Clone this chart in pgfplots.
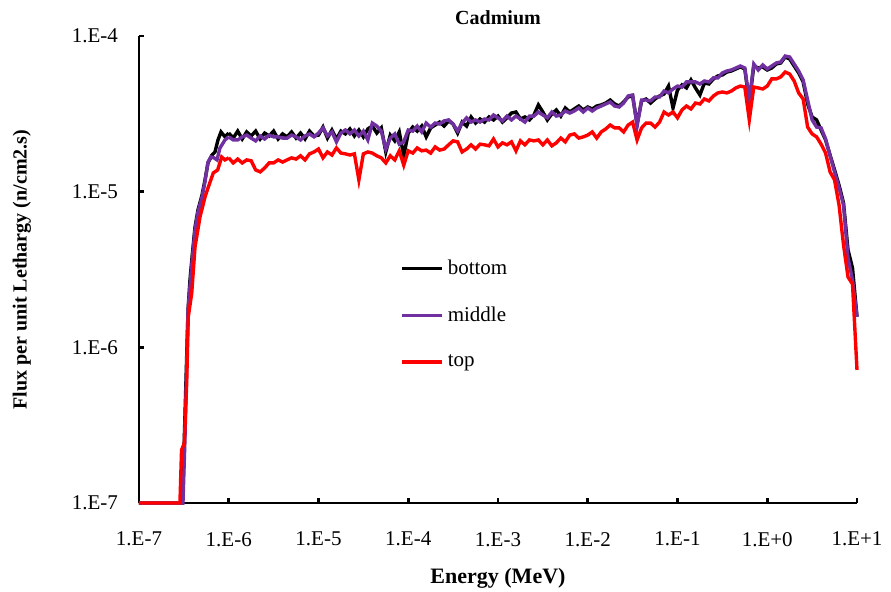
\documentclass[border=0pt]{standalone}
\usepackage{fontspec}
\setmainfont{Liberation Serif}
\usepackage{pgfplots}
\usepackage{pgfplotstable}
\pgfplotsset{compat=1.18}
\definecolor{cpurple}{HTML}{7030A0}
\definecolor{cred}{HTML}{FF0000}
\pgfplotsset{legend image code/.code={\draw[#1] (0pt,0pt) -- (20pt,0pt);}}

% rising edge, one table per series
\pgfplotstableread{
E F
1e-7 1e-7
3.05e-7 1e-7
3.17e-7 2.19e-7
3.34e-7 6.17e-7
3.52e-7 1.74e-6
3.70e-7 2.71e-6
3.90e-7 3.80e-6
4.21e-7 5.93e-6
4.54e-7 7.62e-6
5.04e-7 9.52e-6
5.44e-7 1.19e-5
5.87e-7 1.53e-5
6.51e-7 1.72e-5
7.03e-7 1.80e-5
7.59e-7 2.15e-5
8.20e-7 2.42e-5
9.08e-7 2.25e-5
1e-6 2.38e-5
}\riseB
\pgfplotstableread{
E F
1e-7 1e-7
3.09e-7 1e-7
3.25e-7 2.54e-7
3.52e-7 1.74e-6
3.90e-7 3.53e-6
4.21e-7 5.67e-6
4.54e-7 7.40e-6
5.04e-7 9.24e-6
5.44e-7 1.16e-5
5.87e-7 1.55e-5
6.34e-7 1.67e-5
6.85e-7 1.65e-5
7.40e-7 1.60e-5
7.99e-7 1.91e-5
9.08e-7 2.15e-5
1e-6 2.25e-5
}\riseM
\pgfplotstableread{
E F
1e-7 1e-7
2.86e-7 1e-7
2.98e-7 2.19e-7
3.20e-7 2.43e-7
3.40e-7 5.90e-7
3.54e-7 1.57e-6
3.87e-7 2.23e-6
4.21e-7 4.41e-6
4.78e-7 6.87e-6
5.44e-7 9.24e-6
5.92e-7 1.07e-5
6.73e-7 1.32e-5
7.53e-7 1.38e-5
8.34e-7 1.67e-5
9.08e-7 1.60e-5
1e-6 1.65e-5
}\riseT

% plateau and fast range: energy, bottom, middle, top
\pgfplotstableread{
E B M T
1e-6 2.38e-5 2.25e-5 1.65e-5
1.122e-6 2.21e-5 2.15e-5 1.53e-5
1.259e-6 2.45e-5 2.15e-5 1.62e-5
1.413e-6 2.18e-5 2.25e-5 1.53e-5
1.585e-6 2.42e-5 2.31e-5 1.60e-5
1.778e-6 2.28e-5 2.21e-5 1.58e-5
1.995e-6 2.45e-5 2.12e-5 1.38e-5
2.239e-6 2.18e-5 2.28e-5 1.34e-5
2.512e-6 2.38e-5 2.18e-5 1.42e-5
2.818e-6 2.28e-5 2.31e-5 1.53e-5
3.162e-6 2.45e-5 2.25e-5 1.53e-5
3.548e-6 2.18e-5 2.25e-5 1.60e-5
3.981e-6 2.35e-5 2.21e-5 1.55e-5
4.467e-6 2.25e-5 2.21e-5 1.60e-5
5.012e-6 2.42e-5 2.31e-5 1.65e-5
5.623e-6 2.21e-5 2.25e-5 1.62e-5
6.310e-6 2.38e-5 2.15e-5 1.70e-5
7.079e-6 2.18e-5 2.28e-5 1.60e-5
7.943e-6 2.45e-5 2.35e-5 1.75e-5
8.913e-6 2.28e-5 2.25e-5 1.80e-5
1e-5 2.31e-5 2.38e-5 1.88e-5
1.122e-5 2.60e-5 2.57e-5 1.65e-5
1.259e-5 2.21e-5 2.28e-5 1.80e-5
1.413e-5 2.49e-5 2.42e-5 1.72e-5
1.585e-5 2.18e-5 2.09e-5 1.91e-5
1.778e-5 2.45e-5 2.38e-5 1.77e-5
1.995e-5 2.35e-5 2.49e-5 1.75e-5
2.239e-5 2.53e-5 2.35e-5 1.72e-5
2.512e-5 2.28e-5 2.49e-5 1.75e-5
2.818e-5 2.49e-5 2.28e-5 1.19e-5
3.162e-5 2.25e-5 2.45e-5 1.75e-5
3.548e-5 2.53e-5 2.15e-5 1.80e-5
3.981e-5 2.64e-5 2.76e-5 1.77e-5
4.467e-5 2.38e-5 2.64e-5 1.70e-5
5.012e-5 2.57e-5 2.45e-5 1.65e-5
5.623e-5 1.80e-5 1.88e-5 1.53e-5
6.310e-5 2.31e-5 2.21e-5 1.70e-5
7.079e-5 2.12e-5 2.35e-5 1.60e-5
7.943e-5 2.42e-5 2.02e-5 1.83e-5
8.913e-5 1.70e-5 2.09e-5 1.48e-5
1e-4 2.38e-5 2.49e-5 1.83e-5
1.122e-4 2.60e-5 2.45e-5 1.77e-5
1.259e-4 2.45e-5 2.64e-5 1.91e-5
1.413e-4 2.64e-5 2.42e-5 1.83e-5
1.585e-4 2.25e-5 2.76e-5 1.85e-5
1.778e-4 2.57e-5 2.60e-5 1.77e-5
1.995e-4 2.68e-5 2.76e-5 1.94e-5
2.239e-4 2.80e-5 2.72e-5 1.85e-5
2.512e-4 2.64e-5 2.85e-5 1.88e-5
2.818e-4 2.85e-5 2.89e-5 2.00e-5
3.162e-4 2.72e-5 2.72e-5 2.12e-5
3.548e-4 2.38e-5 2.45e-5 2.09e-5
3.981e-4 2.80e-5 2.76e-5 1.80e-5
4.467e-4 2.64e-5 2.98e-5 1.88e-5
5.012e-4 3.02e-5 2.80e-5 2.00e-5
5.623e-4 2.76e-5 2.89e-5 1.88e-5
6.310e-4 2.93e-5 2.80e-5 2.02e-5
7.079e-4 2.80e-5 2.93e-5 2.00e-5
7.943e-4 3.02e-5 2.89e-5 1.97e-5
8.913e-4 2.89e-5 3.11e-5 2.18e-5
1e-3 3.06e-5 2.98e-5 1.94e-5
1.122e-3 2.80e-5 2.85e-5 2.06e-5
1.259e-3 2.98e-5 3.06e-5 2.00e-5
1.413e-3 3.20e-5 2.89e-5 2.09e-5
1.585e-3 3.25e-5 3.06e-5 1.83e-5
1.778e-3 2.93e-5 2.93e-5 2.12e-5
1.995e-3 3.02e-5 2.80e-5 2.00e-5
2.239e-3 2.89e-5 3.06e-5 2.15e-5
2.512e-3 3.11e-5 3.06e-5 2.12e-5
2.818e-3 3.61e-5 3.25e-5 2.15e-5
3.162e-3 3.25e-5 3.11e-5 2.00e-5
3.548e-3 2.89e-5 2.98e-5 2.15e-5
3.981e-3 3.16e-5 3.25e-5 1.97e-5
4.467e-3 3.35e-5 3.06e-5 2.06e-5
5.012e-3 3.06e-5 3.11e-5 2.21e-5
5.623e-3 3.45e-5 3.30e-5 2.09e-5
6.310e-3 3.25e-5 3.20e-5 2.31e-5
7.079e-3 3.40e-5 3.30e-5 2.35e-5
7.943e-3 3.55e-5 3.45e-5 2.21e-5
8.913e-3 3.35e-5 3.25e-5 2.25e-5
1e-2 3.50e-5 3.45e-5 2.31e-5
1.122e-2 3.40e-5 3.30e-5 2.42e-5
1.259e-2 3.55e-5 3.45e-5 2.21e-5
1.413e-2 3.61e-5 3.55e-5 2.42e-5
1.585e-2 3.71e-5 3.66e-5 2.53e-5
1.778e-2 3.88e-5 3.77e-5 2.68e-5
1.995e-2 3.66e-5 3.55e-5 2.57e-5
2.239e-2 3.55e-5 3.50e-5 2.57e-5
2.512e-2 3.77e-5 3.71e-5 2.42e-5
2.818e-2 4.06e-5 4.12e-5 2.68e-5
3.162e-2 4.12e-5 4.18e-5 2.80e-5
3.548e-2 2.72e-5 2.64e-5 2.15e-5
3.981e-2 3.83e-5 3.88e-5 2.57e-5
4.467e-2 3.94e-5 3.88e-5 2.76e-5
5.012e-2 3.71e-5 3.83e-5 2.76e-5
5.623e-2 3.94e-5 4.06e-5 2.60e-5
6.310e-2 4.12e-5 4.06e-5 2.80e-5
7.079e-2 4.24e-5 4.43e-5 3.25e-5
7.943e-2 4.77e-5 4.31e-5 3.11e-5
8.913e-2 3.45e-5 4.57e-5 3.25e-5
1e-1 4.50e-5 4.77e-5 2.98e-5
1.122e-1 4.85e-5 4.70e-5 3.35e-5
1.259e-1 4.64e-5 5.07e-5 3.55e-5
1.413e-1 5.22e-5 5.07e-5 3.40e-5
1.585e-1 4.64e-5 5.07e-5 3.71e-5
1.778e-1 4.18e-5 4.92e-5 3.66e-5
1.995e-1 4.99e-5 5.14e-5 3.94e-5
2.239e-1 4.92e-5 5.07e-5 3.83e-5
2.512e-1 5.30e-5 5.38e-5 4.12e-5
2.818e-1 5.54e-5 5.38e-5 4.31e-5
3.162e-1 5.62e-5 5.79e-5 4.37e-5
3.548e-1 5.87e-5 5.96e-5 4.31e-5
3.981e-1 5.96e-5 6.05e-5 4.43e-5
4.467e-1 6.14e-5 6.23e-5 4.64e-5
5.012e-1 6.33e-5 6.42e-5 4.77e-5
5.623e-1 6.14e-5 6.23e-5 4.70e-5
6.310e-1 3.71e-5 3.88e-5 2.89e-5
7.079e-1 6.42e-5 6.61e-5 4.70e-5
7.943e-1 6.23e-5 6.05e-5 4.64e-5
8.913e-1 6.33e-5 6.52e-5 4.57e-5
1 6.05e-5 6.14e-5 4.77e-5
1.122 6.23e-5 6.42e-5 5.30e-5
1.259 6.61e-5 6.71e-5 5.30e-5
1.413 6.71e-5 6.81e-5 5.46e-5
1.585 7.33e-5 7.44e-5 5.87e-5
1.778 7.12e-5 7.33e-5 5.70e-5
1.995 6.42e-5 6.61e-5 5.14e-5
2.239 5.79e-5 5.96e-5 4.31e-5
2.512 5.07e-5 5.22e-5 3.94e-5
2.818 3.66e-5 3.88e-5 2.60e-5
3.162 3.02e-5 2.89e-5 2.35e-5
3.548 2.89e-5 2.60e-5 2.25e-5
3.981 2.49e-5 2.57e-5 2.02e-5
4.467 2.15e-5 2.18e-5 1.77e-5
5.012 1.72e-5 1.70e-5 1.34e-5
5.623 1.38e-5 1.34e-5 1.19e-5
6.310 1.10e-5 1.06e-5 8.20e-6
7.079 8.45e-6 8.20e-6 4.54e-6
7.943 4.22e-6 3.75e-6 2.83e-6
8.913 3.23e-6 2.71e-6 2.55e-6
10 1.57e-6 1.57e-6 7.16e-7
}\flux

\begin{document}
\begin{tikzpicture}
\begin{axis}[
  name=ax,
  scale only axis,
  width=359pt, height=233.5pt,
  xmode=log, ymode=log,
  xmin=1e-7, xmax=10, ymin=1e-7, ymax=1e-4,
  clip=false,
  axis x line=bottom, axis y line=left,
  axis line style={-, line width=1.3pt, black},
  xtick={1e-7,1e-6,1e-5,1e-4,1e-3,1e-2,1e-1,1,10},
  xticklabels={1.E-7,1.E-6,1.E-5,1.E-4,1.E-3,1.E-2,1.E-1,1.E+0,1.E+1},
  ytick={1e-7,1e-6,1e-5,1e-4},
  yticklabels={1.E-7,1.E-6,1.E-5,1.E-4},
  xminorticks=false, yminorticks=false,
  tick align=inside,
  major tick length=2.5pt,
  tick style={line width=1.3pt, black},
  ticklabel style={font=\fontsize{10.5}{12}\selectfont},
  xticklabel style={yshift=-11pt},
  yticklabel style={xshift=-7pt},
  xlabel={Energy (MeV)},
  xlabel style={font=\bfseries\fontsize{11}{13}\selectfont, at={(axis description cs:0.5,-0.1606)}, anchor=center},
  ylabel={Flux per unit Lethargy (n/cm2.s)},
  ylabel style={font=\bfseries\fontsize{10}{12}\selectfont, at={(axis description cs:-0.163,0.5)}, anchor=center},
  legend style={at={(axis description cs:0.3635,0.531)}, anchor=north west, draw=none, fill=none,
    font=\fontsize{10.5}{12}\selectfont, row sep=11pt, inner sep=0pt,
    nodes={inner sep=2pt}},
  legend cell align=left,
]
\addplot[black, line width=1.7pt, forget plot] table[x=E, y=F] {\riseB};
\addplot[black, line width=1.7pt] table[x=E, y=B] {\flux};
\addlegendentry{bottom}
\addplot[cpurple, line width=1.7pt, forget plot] table[x=E, y=F] {\riseM};
\addplot[cpurple, line width=1.7pt] table[x=E, y=M] {\flux};
\addlegendentry{middle}
\addplot[cred, line width=1.7pt, forget plot] table[x=E, y=F] {\riseT};
\addplot[cred, line width=1.7pt] table[x=E, y=T] {\flux};
\addlegendentry{top}
\end{axis}
\node[font=\bfseries\fontsize{10}{12}\selectfont, anchor=center] at ([yshift=9pt]ax.north) {Cadmium};
\pgfresetboundingbox
\path ([xshift=-69.5pt,yshift=-44pt]ax.south west) rectangle ([xshift=17pt,yshift=18pt]ax.north east);
\end{tikzpicture}
\end{document}
